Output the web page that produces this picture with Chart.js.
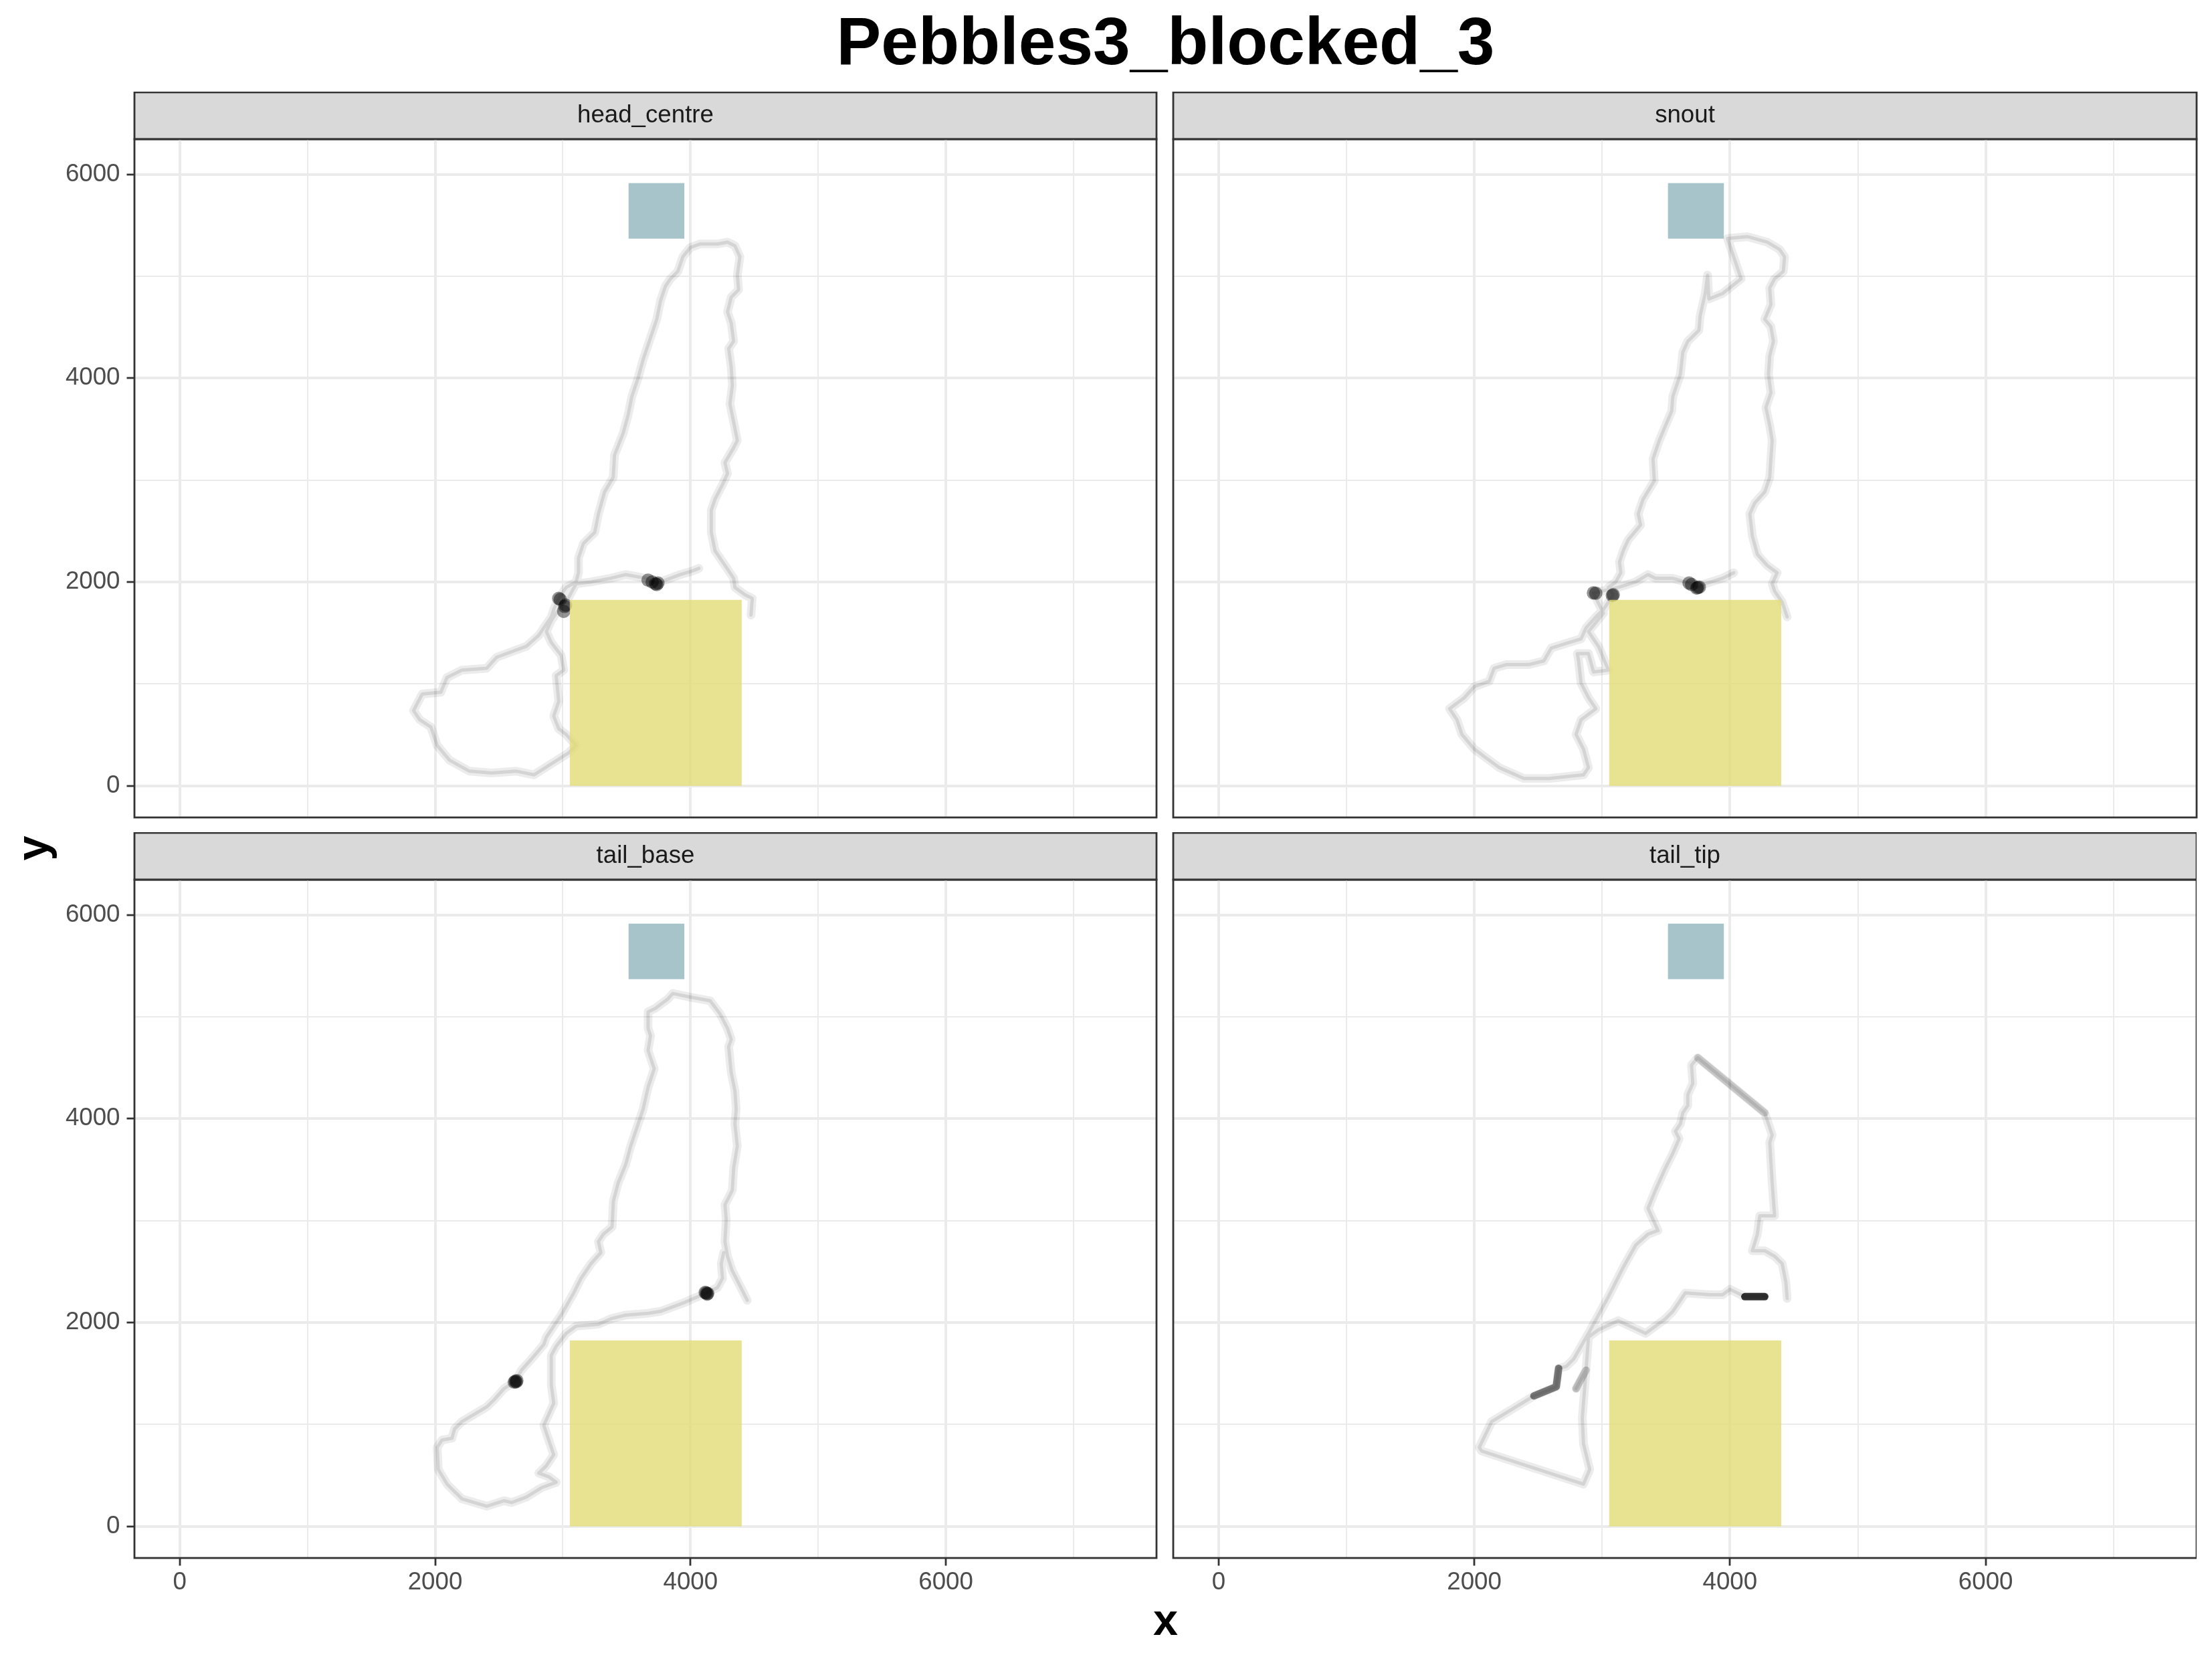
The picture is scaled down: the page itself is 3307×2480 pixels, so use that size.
<!DOCTYPE html>
<html>
<head>
<meta charset="utf-8">
<title>Pebbles3_blocked_3</title>
<script src="https://cdn.jsdelivr.net/npm/chart.js@4.4.0/dist/chart.umd.min.js"></script>
<style>
  html, body { margin: 0; padding: 0; background: #fff; }
  body { width: 3307px; height: 2480px; position: relative; overflow: hidden;
         font-family: "Liberation Sans", Arial, sans-serif; }
  canvas { position: absolute; }
  .lbl { position: absolute; color: #000; font-weight: bold; white-space: nowrap; }
  #title { left: 201px; width: 3083px; top: 11px; text-align: center; font-size: 100px; line-height: 100px; }
  #xlab { left: 201px; width: 3083px; top: 2388px; text-align: center; font-size: 66.7px; line-height: 66.7px; }
  #ylab { left: 48px; top: 1268px; font-size: 66.7px; line-height: 66.7px;
          transform: translate(-50%, -50%) rotate(-90deg); }
</style>
</head>
<body>
<div id="title" class="lbl">Pebbles3_blocked_3</div>
<div id="xlab" class="lbl">x</div>
<div id="ylab" class="lbl">y</div>

<canvas id="p1" width="1739" height="1205" style="left:0px;top:137px"></canvas>
<canvas id="p2" width="1741" height="1205" style="left:1553px;top:137px"></canvas>
<canvas id="p3" width="1739" height="1205" style="left:0px;top:1244px"></canvas>
<canvas id="p4" width="1731" height="1205" style="left:1553px;top:1244px"></canvas>

<script>
// axis setup
const xTicks = [0, 1000, 2000, 3000, 4000, 5000, 6000, 7000];
const yTicks = [0, 1000, 2000, 3000, 4000, 5000, 6000];
const xRange = [-355, 7650];
const yRange = [-310, 6345];

// zones (x from, x to) / (y from, y to)
const blueZoneX = [3515, 3952];
const blueZoneY = [5369, 5914];
const yellowZoneX = [3055, 4401];
const yellowZoneY = [0, 1825];

// trajectories
const headCentre = [[4474,1676],[4484,1839],[4426,1875],[4348,1947],[4338,2037],[4270,2163],[4192,2307],[4163,2487],[4163,2704],[4192,2812],[4251,2956],[4290,3064],[4270,3172],[4338,3317],[4367,3389],[4338,3569],[4309,3749],[4328,3929],[4319,4110],[4299,4290],[4338,4362],[4319,4542],[4290,4650],[4319,4795],[4377,4867],[4367,5011],[4387,5191],[4348,5299],[4290,5335],[4212,5317],[4076,5317],[3998,5281],[3940,5191],[3901,5047],[3843,4975],[3804,4903],[3765,4759],[3736,4578],[3687,4398],[3629,4182],[3590,4002],[3541,3821],[3512,3641],[3473,3461],[3405,3245],[3395,3028],[3327,2884],[3279,2668],[3250,2487],[3162,2379],[3123,2235],[3123,2091],[3104,2001],[3026,1947],[2968,1839],[2929,1730],[2910,1658],[2851,1550],[2812,1478],[2715,1370],[2482,1262],[2404,1154],[2210,1136],[2093,1063],[2045,919],[1899,901],[1831,739],[1879,649],[1967,577],[2016,397],[2113,252],[2268,144],[2443,126],[2637,144],[2774,108],[2910,216],[3046,324],[3104,397],[3026,505],[2968,559],[2929,685],[2968,829],[2948,1082],[3007,1136],[2987,1280],[2910,1406],[2871,1514],[2910,1622],[2968,1730],[2987,1803],[3026,1803],[3104,1983],[3221,2001],[3376,2037],[3493,2073],[3570,2055],[3648,2037],[3726,1983],[3804,2019],[3920,2073],[4017,2109],[4066,2134]];
const headCentreStops = [[2968,1839],[2980,1830],[3022,1774],[3015,1760],[3007,1712],[3668,2019],[3700,2000],[3726,1983],[3735,1975],[3745,1990]];

const snout = [[4447,1658],[4408,1803],[4349,1911],[4330,1983],[4369,2091],[4291,2163],[4214,2271],[4175,2451],[4155,2668],[4194,2776],[4272,2884],[4311,3028],[4320,3208],[4330,3389],[4311,3533],[4281,3713],[4320,3857],[4301,4038],[4311,4218],[4340,4362],[4320,4506],[4272,4578],[4320,4723],[4311,4885],[4349,4975],[4417,5047],[4427,5191],[4388,5263],[4291,5335],[4136,5389],[3981,5371],[4019,5227],[4087,4975],[3942,4831],[3835,4777],[3825,5011],[3806,4831],[3767,4614],[3757,4470],[3670,4362],[3631,4254],[3612,4038],[3553,3821],[3544,3677],[3495,3533],[3447,3389],[3398,3208],[3408,2992],[3320,2812],[3282,2668],[3301,2560],[3204,2415],[3165,2307],[3136,2199],[3146,2091],[3107,2001],[3049,1947],[3087,1875],[3010,1730],[2951,1658],[2874,1550],[2835,1442],[2738,1406],[2602,1352],[2544,1226],[2427,1190],[2252,1190],[2155,1154],[2117,1027],[2000,973],[1922,865],[1806,757],[1864,649],[1903,505],[2000,361],[2078,288],[2194,180],[2388,72],[2583,72],[2854,108],[2893,180],[2854,361],[2796,505],[2835,649],[2951,757],[2893,865],[2835,1009],[2816,1226],[2806,1298],[2893,1298],[2932,1118],[3049,1136],[2971,1370],[2893,1514],[3010,1694],[2932,1893],[3126,1947],[3262,2001],[3359,2073],[3417,2037],[3553,2037],[3650,2001],[3689,1983],[3748,1947],[3806,1983],[3942,2037],[4029,2091]];
const snoutStops = [[2932,1893],[2950,1890],[3087,1875],[3080,1868],[3680,1990],[3700,1975],[3748,1947],[3740,1940],[3760,1950]];

const tailBase = [[4445,2218],[4387,2362],[4328,2506],[4290,2650],[4270,2795],[4280,3011],[4270,3155],[4328,3299],[4338,3516],[4367,3732],[4348,3949],[4358,4093],[4348,4273],[4319,4453],[4299,4706],[4319,4778],[4290,4886],[4231,5030],[4154,5157],[3998,5193],[3862,5229],[3823,5175],[3726,5084],[3668,5048],[3668,4886],[3687,4814],[3668,4670],[3716,4489],[3668,4309],[3629,4093],[3590,3949],[3532,3732],[3493,3552],[3434,3372],[3396,3191],[3386,2939],[3318,2867],[3279,2795],[3298,2686],[3221,2578],[3143,2434],[3085,2290],[2987,2073],[2929,1965],[2871,1857],[2851,1785],[2754,1641],[2676,1533],[2628,1424],[2540,1352],[2463,1244],[2404,1172],[2210,1028],[2152,956],[2132,865],[2054,847],[2016,775],[2025,559],[2093,415],[2210,270],[2404,198],[2540,252],[2599,234],[2715,288],[2832,379],[2948,433],[2890,487],[2812,523],[2871,595],[2929,703],[2890,847],[2851,992],[2890,1100],[2929,1208],[2910,1388],[2910,1569],[2910,1677],[2948,1767],[3026,1893],[3104,1965],[3279,1983],[3376,2037],[3493,2073],[3668,2091],[3765,2110],[3843,2146],[3959,2200],[4124,2290],[4212,2344],[4251,2434],[4241,2578],[4260,2686]];
const tailBaseStops = [[2628,1424],[2640,1430],[2620,1415],[2635,1418],[4124,2290],[4135,2285],[4115,2295],[4130,2280]];

const tailTip = [[4447,2236],[4437,2398],[4408,2578],[4349,2650],[4272,2705],[4175,2705],[4214,2867],[4233,3047],[4349,3047],[4330,3372],[4311,3768],[4330,3840],[4272,4057],[3748,4598],[3699,4526],[3709,4345],[3670,4237],[3670,4129],[3631,4057],[3612,3949],[3573,3876],[3602,3804],[3553,3660],[3495,3516],[3417,3299],[3359,3119],[3398,3011],[3437,2903],[3359,2867],[3262,2759],[3165,2542],[3049,2254],[2971,2073],[2893,1893],[2777,1641],[2718,1569],[2660,1551],[2641,1370],[2466,1280],[2136,1028],[2039,775],[2058,739],[2854,415],[2903,559],[2854,811],[2845,1064],[2874,1533],[2796,1352],[2874,1533],[2893,1857],[2971,1929],[3126,2019],[3340,1893],[3417,1965],[3495,2037],[3553,2110],[3612,2218],[3650,2290],[3845,2272],[3942,2272],[4000,2326],[4116,2254],[4194,2254],[4272,2254]];
const tailTipDiagonal = [[3748,4598],[4272,4057]];
const tailTipHook = [[2660,1551],[2641,1370],[2466,1280]];
const tailTipSpur = [[2874,1533],[2796,1352]];
const tailTipStop = [[4116,2254],[4194,2254],[4272,2254]];

const FONT = '"Liberation Sans", Arial, sans-serif';
const toXY = pts => pts.map(p => ({ x: p[0], y: p[1] }));

function trail(pts) {
  return [
    { data: toXY(pts), showLine: true, borderColor: 'rgba(0,0,0,0.075)', borderWidth: 13,
      pointRadius: 0, borderJoinStyle: 'round', borderCapStyle: 'round' },
    { data: toXY(pts), showLine: true, borderColor: 'rgba(0,0,0,0.10)', borderWidth: 5,
      pointRadius: 0, borderJoinStyle: 'round', borderCapStyle: 'round' }
  ];
}
function heavy(pts, a) {
  return { data: toXY(pts), showLine: true, borderColor: 'rgba(0,0,0,' + a + ')', borderWidth: 11,
           pointRadius: 0, borderJoinStyle: 'round', borderCapStyle: 'round' };
}
function stops(pts) {
  return { data: toXY(pts), showLine: false, pointRadius: 10, pointBorderWidth: 0,
           pointBackgroundColor: 'rgba(0,0,0,0.42)' };
}

function drawZone(ctx, x, y, zx, zy, color) {
  const l = x.getPixelForValue(zx[0]), r = x.getPixelForValue(zx[1]);
  const t = y.getPixelForValue(zy[1]), b = y.getPixelForValue(zy[0]);
  ctx.fillStyle = color;
  ctx.fillRect(l, t, r - l, b - t);
}

const facetPlugin = {
  id: 'facet',
  beforeDraw(chart) {
    const { ctx, chartArea: ca } = chart;
    ctx.save();
    ctx.fillStyle = '#d9d9d9';
    ctx.fillRect(ca.left, 1, ca.right - ca.left, ca.top - 1);
    ctx.strokeStyle = '#333333';
    ctx.lineWidth = 2.8;
    ctx.strokeRect(ca.left, 1, ca.right - ca.left, ca.top - 1);
    ctx.restore();
  },
  afterDatasetsDraw(chart) {
    const { ctx, chartArea: ca, scales } = chart;
    ctx.save();
    ctx.beginPath();
    ctx.rect(ca.left, ca.top, ca.right - ca.left, ca.bottom - ca.top);
    ctx.clip();
    drawZone(ctx, scales.x, scales.y, blueZoneX, blueZoneY, 'rgba(145,181,190,0.8)');
    drawZone(ctx, scales.x, scales.y, yellowZoneX, yellowZoneY, 'rgba(226,220,118,0.8)');
    ctx.restore();
  },
  afterDraw(chart) {
    const { ctx, chartArea: ca } = chart;
    ctx.save();
    ctx.strokeStyle = '#333333';
    ctx.lineWidth = 2.8;
    ctx.strokeRect(ca.left, ca.top, ca.right - ca.left, ca.bottom - ca.top);
    ctx.restore();
  }
};

function axis(range, ticks, show, isX) {
  return {
    type: 'linear',
    min: range[0],
    max: range[1],
    afterBuildTicks: s => { s.ticks = ticks.map(v => ({ value: v })); },
    afterFit: s => { if (isX) s.height = 120; else s.width = 201; },
    border: { display: false },
    grid: {
      color: '#ebebeb',
      lineWidth: c => (c.tick && c.tick.value % 2000 === 0) ? 4 : 2,
      drawTicks: true,
      tickLength: 11.5,
      tickWidth: 2.8,
      tickColor: c => (show && c.tick && c.tick.value % 2000 === 0) ? '#333333' : 'rgba(0,0,0,0)'
    },
    ticks: {
      color: '#4d4d4d',
      font: { family: FONT, size: 36.7 },
      padding: isX ? 3 : 10,
      autoSkip: false,
      maxRotation: 0,
      callback: v => (show && v % 2000 === 0) ? String(v) : ''
    }
  };
}

function panel(id, name, datasets, showX, showY) {
  new Chart(document.getElementById(id), {
    type: 'scatter',
    data: { datasets: datasets },
    options: {
      responsive: false,
      animation: false,
      devicePixelRatio: 1,
      layout: { padding: 0 },
      plugins: {
        legend: { display: false },
        tooltip: { enabled: false },
        title: {
          display: true, text: name, fullSize: false, color: '#1a1a1a',
          font: { family: FONT, size: 36.7, weight: 'normal', lineHeight: 1.2 },
          padding: { top: 13.5, bottom: 13.5 }
        }
      },
      scales: {
        x: axis(xRange, xTicks, showX, true),
        y: axis(yRange, yTicks, showY, false)
      }
    },
    plugins: [facetPlugin]
  });
}

panel('p1', 'head_centre', [...trail(headCentre), stops(headCentreStops)], false, true);
panel('p2', 'snout', [...trail(snout), stops(snoutStops)], false, false);
panel('p3', 'tail_base', [...trail(tailBase), stops(tailBaseStops)], true, true);
panel('p4', 'tail_tip', [...trail(tailTip), heavy(tailTipDiagonal, 0.16), heavy(tailTipHook, 0.5),
                          heavy(tailTipSpur, 0.2), heavy(tailTipStop, 0.8)], true, false);
</script>
</body>
</html>
